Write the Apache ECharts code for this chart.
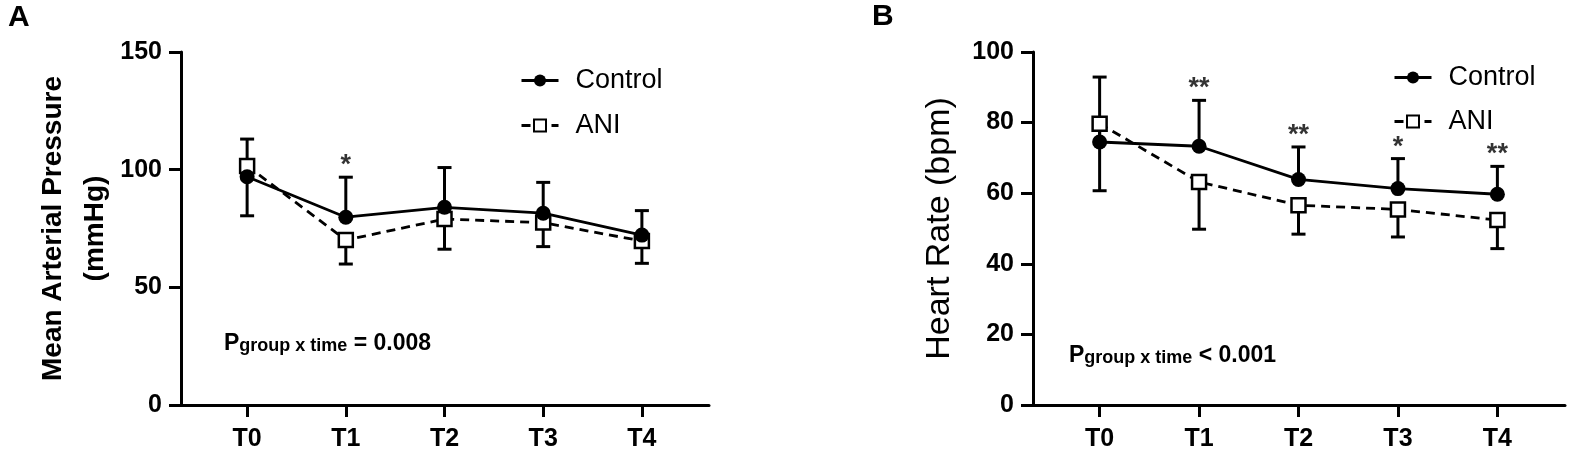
<!DOCTYPE html>
<html>
<head>
<meta charset="utf-8">
<script src="https://cdn.jsdelivr.net/npm/echarts@6/dist/echarts.min.js"></script>
<style>
    html, body { margin: 0; padding: 0; background: #fff; }
    #myChart { width: 1571px; height: 455px; }
</style>
</head>
<body>
<div id="myChart"></div>
<script>
// time points
var times = ['T0', 'T1', 'T2', 'T3', 'T4']

// A - mean arterial pressure (mmHg), mean and SD
var mapControl = [97.0, 79.8, 84.0, 81.5, 72.2]
var mapControlSd = [16.0, 17.0, 16.9, 13.1, 10.4]
var mapAni = [101.6, 70.1, 79.0, 77.5, 69.7]
var mapAniSd = [21.2, 10.2, 12.8, 10.2, 9.5]
var mapStars = ['', '*', '', '', '']
var mapTicks = [0, 50, 100, 150]
var mapP = '= 0.008'

// B - heart rate (bpm), mean and SD
var hrControl = [74.5, 73.3, 63.9, 61.3, 59.7]
var hrControlSd = [18.4, 13.0, 9.2, 8.5, 7.9]
var hrAni = [79.7, 63.2, 56.6, 55.4, 52.4]
var hrAniSd = [19.0, 13.4, 8.2, 7.8, 8.1]
var hrStars = ['', '**', '**', '*', '**']
var hrTicks = [0, 20, 40, 60, 80, 100]
var hrP = '< 0.001'

var FONT = '"Liberation Sans", Arial, Helvetica, sans-serif'
var tickIdx = times.map(function(t, i) { return i })

function pts(vals) {
    return vals.map(function(v, i) { return [i, v] })
}

// error bar: control goes up, ANI goes down (GraphPad style)
function errBars(vals, sd, dir, idx) {
    return {
        type: 'custom',
        xAxisIndex: idx,
        yAxisIndex: idx,
        silent: true,
        z: 1,
        data: vals.map(function(v, i) { return [i, v, v + dir * sd[i]] }),
        renderItem: function(params, api) {
            var p0 = api.coord([api.value(0), api.value(1)])
            var p1 = api.coord([api.value(0), api.value(2)])
            var hw = 7
            return {
                type: 'group',
                children: [{
                    type: 'line',
                    shape: { x1: p0[0], y1: p0[1], x2: p1[0], y2: p1[1] },
                    style: { stroke: '#000', lineWidth: 3 }
                }, {
                    type: 'line',
                    shape: { x1: p1[0] - hw, y1: p1[1], x2: p1[0] + hw, y2: p1[1] },
                    style: { stroke: '#000', lineWidth: 3 }
                }]
            }
        }
    }
}

function lineSeries(control, ani, idx) {
    return [{
        name: 'Control',
        type: 'line',
        xAxisIndex: idx,
        yAxisIndex: idx,
        data: pts(control),
        symbol: 'circle',
        symbolSize: 15,
        z: 3,
        itemStyle: { color: '#000' },
        lineStyle: { color: '#000', width: 2.8 },
        emphasis: { disabled: true }
    }, {
        name: 'ANI',
        type: 'line',
        xAxisIndex: idx,
        yAxisIndex: idx,
        data: pts(ani),
        symbol: 'rect',
        symbolSize: 14,
        z: 2,
        itemStyle: { color: '#fff', borderColor: '#000', borderWidth: 2.5 },
        lineStyle: { color: '#000', width: 2.8, type: [9, 6] },
        emphasis: { disabled: true }
    }]
}

function starSeries(control, sd, stars, idx) {
    return {
        type: 'scatter',
        xAxisIndex: idx,
        yAxisIndex: idx,
        silent: true,
        symbolSize: 0,
        data: control.map(function(v, i) { return [i, v + sd[i]] }),
        label: {
            show: true,
            position: 'top',
            distance: -2,
            fontSize: 27,
            fontWeight: 'bold',
            fontFamily: FONT,
            color: '#000',
            textBorderWidth: 0,
            formatter: function(p) { return stars[p.dataIndex] }
        }
    }
}

function xAxis(idx) {
    return {
        gridIndex: idx,
        type: 'value',
        min: -0.67,
        max: 4.68,
        splitLine: { show: false },
        axisLine: { show: true, onZero: false, lineStyle: { color: '#000', width: 3 } },
        axisTick: { show: true, customValues: tickIdx, length: 12, lineStyle: { color: '#000', width: 3 } },
        axisLabel: {
            customValues: tickIdx,
            formatter: function(v) { return times[v] },
            margin: 22,
            fontSize: 25,
            fontWeight: 'bold',
            fontFamily: FONT,
            color: '#000'
        }
    }
}

function yAxis(idx, ticks, name, nameGap, nameStyle) {
    return {
        gridIndex: idx,
        type: 'value',
        min: ticks[0],
        max: ticks[ticks.length - 1],
        interval: ticks[1] - ticks[0],
        splitLine: { show: false },
        axisLine: { show: true, onZero: false, lineStyle: { color: '#000', width: 3 } },
        axisTick: { show: true, length: 12, lineStyle: { color: '#000', width: 3 } },
        axisLabel: { margin: 19, fontSize: 25, fontWeight: 'bold', fontFamily: FONT, color: '#000' },
        name: name,
        nameLocation: 'middle',
        nameRotate: 90,
        nameGap: nameGap,
        nameTextStyle: nameStyle
    }
}

function legend(left, top, gap) {
    return {
        data: ['Control', 'ANI'],
        orient: 'vertical',
        left: left,
        top: top,
        itemWidth: 37,
        itemHeight: 15,
        itemGap: gap,
        selectedMode: false,
        lineStyle: { width: 3 },
        textStyle: { fontSize: 27, fontFamily: FONT, color: '#000', padding: [0, 0, 0, 12] }
    }
}

function pText(left, top, rest) {
    return {
        type: 'text',
        left: left,
        top: top,
        style: {
            text: '{p|P}{s|group x time}{p| ' + rest + '}',
            rich: {
                p: { fontSize: 23, fontWeight: 'bold', fontFamily: FONT, fill: '#000', lineHeight: 23, verticalAlign: 'top' },
                s: { fontSize: 18, fontWeight: 'bold', fontFamily: FONT, fill: '#000', lineHeight: 18, padding: [12, 0, 0, 0], verticalAlign: 'bottom' }
            }
        }
    }
}

var myChart = echarts.init(document.getElementById('myChart'))
myChart.setOption({
    backgroundColor: '#fff',
    animation: false,
    grid: [
        { left: 181, top: 52, width: 528, height: 353 },
        { left: 1033, top: 52, width: 532, height: 353 }
    ],
    xAxis: [xAxis(0), xAxis(1)],
    yAxis: [
        yAxis(0, mapTicks, 'Mean Arterial Pressure\n(mmHg)', 65,
            { fontSize: 28, fontWeight: 'bold', fontFamily: FONT, color: '#000', lineHeight: 42 }),
        yAxis(1, hrTicks, 'Heart Rate (bpm)', 76,
            { fontSize: 34, fontFamily: FONT, color: '#000' })
    ],
    legend: [legend(515, 62, 18), legend(1388, 59, 17)],
    graphic: [
        { type: 'text', left: 8, top: 3, style: { text: 'A', fontSize: 30, fontWeight: 'bold', fontFamily: FONT, fill: '#000' } },
        { type: 'text', left: 872, top: 2, style: { text: 'B', fontSize: 30, fontWeight: 'bold', fontFamily: FONT, fill: '#000' } },
        pText(224, 325, mapP),
        pText(1069, 337, hrP)
    ],
    series: [
        errBars(mapControl, mapControlSd, 1, 0),
        errBars(mapAni, mapAniSd, -1, 0),
        errBars(hrControl, hrControlSd, 1, 1),
        errBars(hrAni, hrAniSd, -1, 1)
    ].concat(lineSeries(mapControl, mapAni, 0))
     .concat(lineSeries(hrControl, hrAni, 1))
     .concat([
        starSeries(mapControl, mapControlSd, mapStars, 0),
        starSeries(hrControl, hrControlSd, hrStars, 1)
    ])
})
</script>
</body>
</html>
